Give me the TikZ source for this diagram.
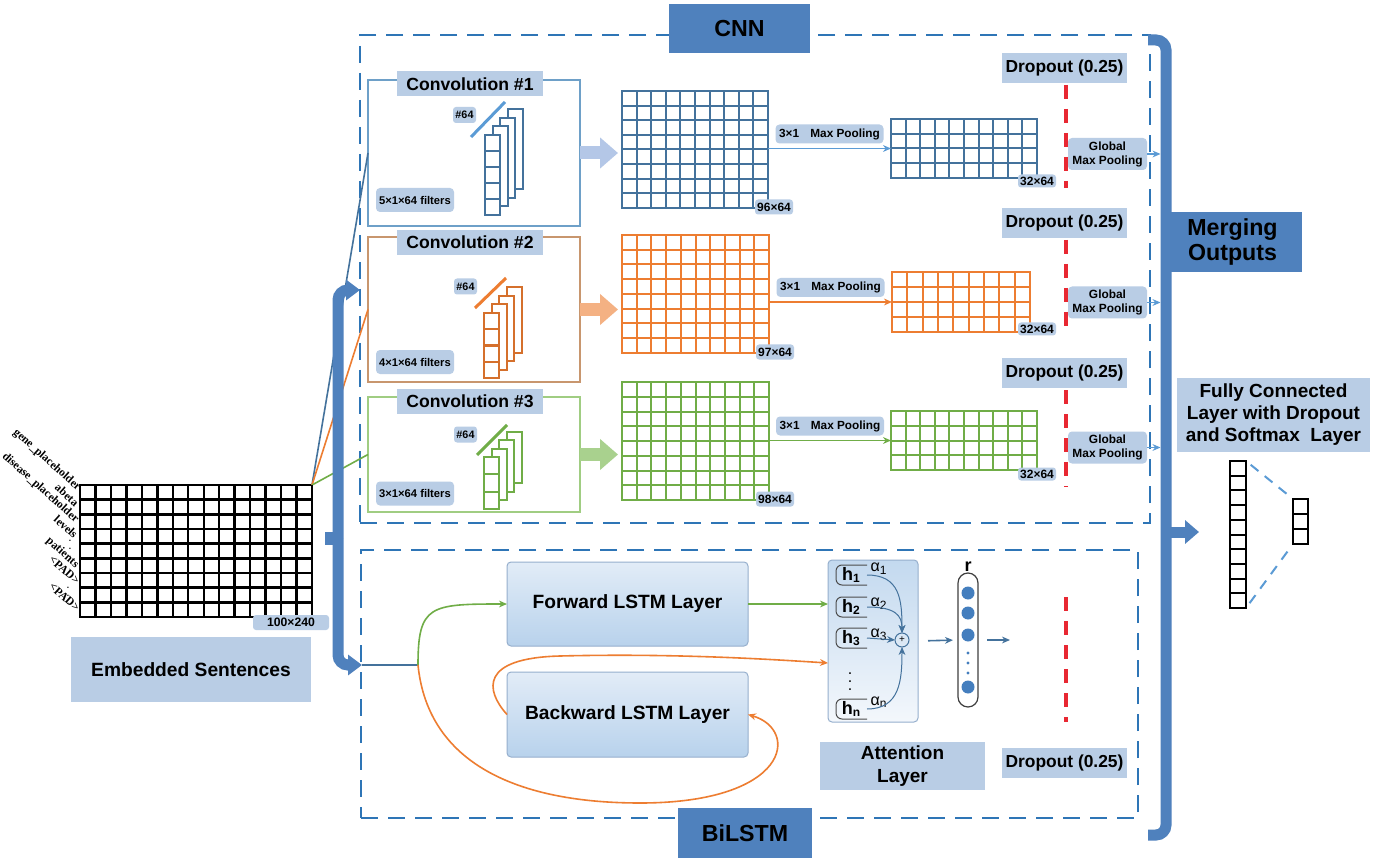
\documentclass[tikz,border=0pt]{standalone}
\usepackage{fontspec}
\setmainfont{Liberation Sans}
\newfontfamily\wordfont{Liberation Serif}
\usetikzlibrary{arrows.meta,calc,positioning}

\definecolor{headblue}{RGB}{79,129,189}
\definecolor{tagblue}{RGB}{185,205,229}
\definecolor{frameblue}{RGB}{46,117,182}
\definecolor{mblue}{RGB}{68,114,156}
\definecolor{barblue}{RGB}{91,155,213}
\definecolor{morange}{RGB}{237,125,49}
\definecolor{mgreen}{RGB}{112,173,71}
\definecolor{lblue}{RGB}{180,199,231}
\definecolor{lorange}{RGB}{244,177,131}
\definecolor{lgreen}{RGB}{169,209,142}
\definecolor{dropred}{RGB}{232,40,50}
\definecolor{lstmtop}{RGB}{226,236,247}
\definecolor{lstmbot}{RGB}{184,210,236}
\definecolor{lstmline}{RGB}{150,175,205}
\definecolor{dotblue}{RGB}{68,126,190}
\definecolor{convaline}{RGB}{110,160,200}
\definecolor{convbline}{RGB}{200,150,110}
\definecolor{convcline}{RGB}{160,205,130}

\begin{document}
\begin{tikzpicture}[x=0.5pt, y=-0.5pt, >={Stealth[length=4pt,width=3.4pt]},
    every node/.style = {inner sep=0pt, outer sep=0pt},
    fs/.style 2 args = {font=\bfseries\fontsize{#1}{#2}\selectfont},
    tag/.style = {fill=tagblue, align=center},
    headtag/.style = {fill=headblue, align=center, fs={11.6}{12.5}},
    frame/.style = {draw=frameblue, line width=1.35pt, dash pattern=on 8.5pt off 5pt, anchor=north west},
    convbox/.style = {draw=#1, line width=0.6pt, anchor=north west},
    fmap/.style = {draw=#1, line width=1pt, anchor=north west},
    feed/.style = {line width=6.5pt, draw=#1, shorten >=2pt, -{Triangle[length=9pt,width=15pt]}},
    lstmbox/.style = {draw=lstmline, line width=0.5pt, rounded corners=2pt, top color=lstmtop,
                      bottom color=lstmbot, anchor=north west, fs={9.6}{11}},
    mergebar/.style = {draw=headblue, line width=5.5pt, rounded corners=5pt},
    dropline/.style = {draw=dropred, line width=1.6pt, dash pattern=on 7pt off 5pt},
    fcdash/.style = {draw=barblue, line width=1pt, dash pattern=on 5pt off 4pt, shorten <=3pt, shorten >=3pt},
    hbrace/.style = {draw=black!70, line width=0.5pt, rounded corners=3pt},
    word/.style = {font=\wordfont\bfseries\fontsize{5.8}{6}\selectfont, rotate=-42, anchor=east},
    ]
    \useasboundingbox (0,0) rectangle (1387,861);
    \fill[white] (0,0) rectangle (1387,861);

    % dashed frames of the two branches
    \node[frame, minimum width=395pt, minimum height=244pt] (cnnframe) at (360,35) {};
    \node[frame, minimum width=388.5pt, minimum height=134pt] (lstmframe) at (361,550) {};

    % input matrix
    \node[fmap=black, line width=1.2pt, minimum width=116pt, minimum height=66pt] (emb) at (80,485) {};
    \foreach \w/\x/\y [count=\k] in {gene\_placeholder/79/489, abeta/77/504, disease\_placeholder/77/521,
                                      levels/76/536, patients/77/566, <PAD>/78/582, <PAD>/78/609}
      \node[word] (word\k) at (\x,\y) {\w};
    \node[font=\fontsize{6}{6}\selectfont] (vdots1) at (70,543) {$\vdots$};
    \node[font=\fontsize{6}{6}\selectfont] (vdots2) at (68,590) {$\vdots$};

    % convolution blocks
    \node[convbox=convaline, minimum width=106pt, minimum height=73pt] (conv1) at (368,80) {};
    \node[convbox=convbline, minimum width=106pt, minimum height=72.5pt] (conv2) at (368,237) {};
    \node[convbox=convcline, minimum width=106pt, minimum height=57.5pt] (conv3) at (368,397) {};

    \draw[mblue, line width=0.8pt] (emb.north east) -- (conv1.west);
    \draw[morange, line width=0.8pt] (emb.north east) -- (conv2.west);
    \draw[mgreen, line width=0.8pt] (emb.north east) -- (conv3.west);

    % stacks of filters
    \foreach \c/\x/\y/\h/\k in {mblue/485/135/16/5, morange!90!black/484/313/16.25/4, mgreen/484/457/17.3/3}
    {
      \foreach \s in {3,2,1}
        \draw[\c, line width=1pt, fill=white] (\x+7.7*\s, \y-8.5*\s) rectangle ++(15, \h*\k);
      \foreach \j in {1,...,\k}
        \draw[\c, line width=1pt, fill=white] (\x, \y+\h*\j-\h) rectangle ++(15, \h);
    }
    \draw[barblue, line width=1.5pt] (471,137) -- (505,102);
    \draw[morange, line width=1.5pt] (475,308) -- (506,278);
    \draw[mgreen, line width=1.5pt] (477,455) -- (507,425);

    % feature maps
    \node[fmap=mblue, minimum width=73pt, minimum height=58.5pt] (map1) at (622,91) {};
    \node[fmap=morange, minimum width=73.5pt, minimum height=59pt] (map2) at (622,235) {};
    \node[fmap=mgreen, minimum width=73.5pt, minimum height=59pt] (map3) at (622,382) {};
    \node[fmap=mblue, minimum width=73pt, minimum height=29.5pt] (pool1) at (891,119) {};
    \node[fmap=morange, minimum width=69pt, minimum height=30pt] (pool2) at (892,272) {};
    \node[fmap=mgreen, minimum width=73pt, minimum height=29.5pt] (pool3) at (891,411) {};
    \node[fmap=black, minimum width=8pt, minimum height=73.5pt] (fc) at (1230,461) {};
    \node[fmap=black, minimum width=7.5pt, minimum height=22.5pt] (out) at (1293,499) {};

    \foreach \g/\c/\nx/\ny/\w in {emb/black/15/9/1.2pt, map1/mblue/10/8/1pt, map2/morange/10/8/1pt,
                                  map3/mgreen/10/8/1pt, pool1/mblue/10/4/1pt, pool2/morange/9/4/1pt,
                                  pool3/mgreen/10/4/1pt, fc/black/1/10/1pt, out/black/1/3/1pt}
    {
      \foreach \i in {1,...,\nx}
        \draw[\c, line width=\w] ($(\g.north west)!\i/\nx!(\g.north east)$) -- ($(\g.south west)!\i/\nx!(\g.south east)$);
      \foreach \i in {1,...,\ny}
        \draw[\c, line width=\w] ($(\g.north west)!\i/\ny!(\g.south west)$) -- ($(\g.north east)!\i/\ny!(\g.south east)$);
    }

    \draw[feed=lblue] (conv1.east) -- (conv1.east -| map1.west);
    \draw[feed=lorange] (conv2.east) -- (conv2.east -| map2.west);
    \draw[feed=lgreen] (conv3.east) -- (conv3.east -| map3.west);

    % max pooling
    \foreach \n/\c in {1/barblue, 2/morange, 3/mgreen}
      \draw[->, \c, line width=0.6pt] (map\n.east |- pool\n.west) -- node[tag, rounded corners=2pt, fs={5.9}{7},
            text=black, above=2.5pt, minimum width=54pt, minimum height=9.5pt] (pooltag\n)
            {3×1\hspace{4pt} Max Pooling} (pool\n.west);

    % tags
    \node[tag, rounded corners=1.5pt, fs={6.1}{7}, minimum width=38pt, minimum height=7.5pt] (embsize) at (291,622.5) {100×240};
    \node[tag, fs={9.6}{11}, minimum width=120pt, minimum height=32.5pt] (embtag) at (191,669.5) {Embedded Sentences};
    \foreach \n/\y in {1/84, 2/242.5, 3/401.5}
      \node[tag, fs={8.8}{10}, minimum width=73pt, minimum height=12.5pt] (convtag\n) at (470,\y) {Convolution \#\n};
    \foreach \n/\x/\y in {1/464.5/115, 2/465.5/286.5, 3/465.5/434.5}
      \node[tag, rounded corners=1.5pt, fs={5.4}{6}, minimum width=11.5pt, minimum height=8pt] (numtag\n) at (\x,\y) {\#64};
    \foreach \n/\y/\k in {1/200/5, 2/362/4, 3/493.5/3}
      \node[tag, rounded corners=2pt, fs={5.6}{6}, minimum width=39pt, minimum height=12pt] (filttag\n) at (415,\y) {\k×1×64 filters};
    \foreach \n/\t in {1/96×64, 2/97×64, 3/98×64}
      \node[tag, rounded corners=1.5pt, fs={6}{7}, minimum width=19pt, minimum height=7.5pt] (size\n) at ($(map\n.south east)+(6,-1)$) {\t};
    \foreach \n/\y in {1/181, 2/329, 3/474}
      \node[tag, rounded corners=1.5pt, fs={6}{7}, minimum width=19pt, minimum height=6.5pt] (psize\n) at (1037,\y) {32×64};

    % dropout and global pooling
    \foreach \n/\y in {1/68, 2/223, 3/373, 4/763}
      \node[tag, fs={8.7}{10}, minimum width=62.5pt, minimum height=15pt] (drop\n) at (1064.5,\y) {Dropout (0.25)};
    \foreach \a/\b in {85/188, 240/333, 390/487, 597/722}
      \draw[dropline] (1066,\a) -- (1066,\b);
    \foreach \n/\y in {1/154, 2/302.5, 3/447.5}
      \node[tag, rounded corners=2pt, fs={5.95}{7}, minimum width=39.5pt, minimum height=16pt] (gmp\n) at (1107.5,\y) {Global\\Max Pooling};

    % merging brackets
    \coordinate (split) at (338,538);
    \coordinate (lstmin) at (362,665);
    \coordinate (mout) at (1166,532);
    \draw[mergebar, -{Triangle[length=7pt,width=10pt]}] (split) |- ($(cnnframe.west)+(0,11)$);
    \draw[mergebar, -{Triangle[length=7pt,width=10pt]}] (split) |- (lstmin);
    \draw[headblue, line width=6.5pt] (split) -- ++(-13,0);
    \draw[mergebar] (1148,40) -- (1166,40) -- (1166,835) -- (1148,835);
    \draw[mergebar, rounded corners=0pt, -{Triangle[length=7pt,width=11.5pt]}] (mout) -- ++(33,0) coordinate (fcin);
    \foreach \n in {1,2,3}
      \draw[->, barblue, line width=0.6pt, shorten >=2.75pt] (gmp\n.east) -- (gmp\n.east -| mout);

    % output layers
    \node[headtag, minimum width=69.5pt, minimum height=30pt] (merge) at (1232.5,242) {Merging\\Outputs};
    \node[tag, fs={9.5}{11}, minimum width=96.5pt, minimum height=37pt] (fctag) at (1273.5,415)
         {Fully Connected\\Layer with Dropout\\and Softmax\ \ Layer};
    \draw[fcdash] (fc.north east) -- (out.north west);
    \draw[fcdash] (fc.south east) -- (out.south west);

    % BiLSTM
    \node[lstmbox, minimum width=120.5pt, minimum height=42pt] (fwd) at (507,562) {Forward LSTM Layer};
    \node[lstmbox, minimum width=120.5pt, minimum height=42.5pt] (bwd) at (507,672) {Backward LSTM Layer};
    \node[draw=lstmline, line width=0.5pt, rounded corners=2pt, top color=lstmbot!85!white,
          bottom color=lstmtop!40!white, anchor=north west, minimum width=45pt, minimum height=81pt] (attn) at (828,560) {};

    \coordinate (fork) at (418,665);
    \draw[mblue, line width=0.8pt] (lstmin) -- (fork);
    \draw[->, mgreen, line width=0.8pt] (fork) .. controls (418,605) and (430,604) .. (fwd.west);
    \draw[->, morange, line width=0.8pt] (fork) .. controls (428,765) and (520,803) .. (640,803) coordinate (loopbot)
          .. controls (790,803) and (800,730) .. (bwd.east);
    \draw[->, morange, line width=0.8pt] (bwd.west) .. controls (485,690) and (480,658) .. (560,656)
          .. controls (680,653) and (780,660) .. ($(attn.west)+(0,22)$);
    \draw[->, mgreen, line width=0.8pt] (fwd.east) -- (fwd.east -| attn.west);

    % attention
    \foreach \h/\y/\t in {h1/565/1, h2/597/2, h3/628/3, hn/699/n}
    {
      \node[fs={9}{10}, minimum width=15.5pt, minimum height=10pt, anchor=north west] (\h) at (836,\y) {h\textsubscript{\t}};
      \draw[hbrace] (\h.north east) -- (\h.north west) -- (\h.south west) -- (\h.south east);
    }
    \node[font=\fontsize{8}{8}\selectfont] (hdots) at (850,676) {$\vdots$};
    \foreach \n/\y in {1/569, 2/604, 3/635, n/702}
      \node[font=\fontsize{8}{8}\selectfont] (alpha\n) at (879,\y) {α\textsubscript{\n}};
    \node[draw=mblue, circle, line width=0.5pt, minimum size=7pt, font=\fontsize{5}{5}\selectfont] (plus) at (902,640) {+};
    \draw[->, mblue, line width=0.5pt] (h1.east) .. controls (900,575) and (902,600) .. (plus.north);
    \draw[->, mblue, line width=0.5pt] (h2.east) .. controls (895,607) and (902,615) .. (plus.north);
    \draw[->, mblue, line width=0.5pt] (h3.east) -- (plus.west);
    \draw[->, mblue, line width=0.5pt] (hn.east) .. controls (900,709) and (902,680) .. (plus.south);

    \node[draw=black!75, line width=0.6pt, rounded corners=5pt, minimum width=10pt, minimum height=67pt,
          anchor=north west] (rvec) at (958,573) {};
    \node[fs={9}{9}, above=1pt of rvec] (rlab) {r};
    \foreach \y [count=\k] in {593,613,635,687}
      \node[circle, fill=dotblue, minimum size=6.5pt] (dot\k) at (968,\y) {};
    \foreach \y [count=\k] in {653,663,673}
      \node[circle, fill=dotblue, minimum size=1.6pt] (sdot\k) at (968,\y) {};
    \draw[->, mblue, line width=0.8pt, shorten <=5pt, shorten >=2.5pt] (attn.east) -- (rvec.west);
    \draw[->, mblue, line width=0.8pt, shorten <=4.5pt] (rvec.east) -- ++(32,0) coordinate (rout);
    \node[tag, fs={9.5}{11.7}, minimum width=82.5pt, minimum height=24pt] (attntag) at (902.5,766) {Attention\\Layer};

    % branch titles
    \node[headtag, minimum width=70.5pt, minimum height=24.5pt] (cnnhead) at (739.5,28.5) {CNN};
    \node[headtag, minimum width=67pt, minimum height=25pt] (lstmhead) at (745,833) {BiLSTM};
\end{tikzpicture}
\end{document}
